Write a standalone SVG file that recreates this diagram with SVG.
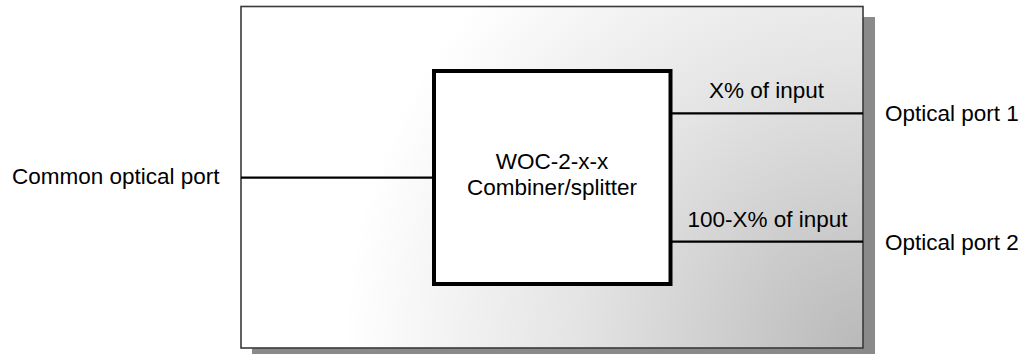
<svg xmlns="http://www.w3.org/2000/svg" width="1024" height="354" viewBox="0 0 1024 354">
<style>
  .lbl { font-family: "Liberation Sans", Arial, sans-serif; font-size: 22.5px; fill: #000; }
  .mid { text-anchor: middle; }
  .conn { stroke: #000; stroke-width: 2.2; fill: none; }
</style>
<defs>
  <radialGradient id="bg" gradientUnits="userSpaceOnUse" cx="863" cy="348" r="520">
    <stop offset="0" stop-color="#b9b9b9"/>
    <stop offset="0.55" stop-color="#e4e4e4"/>
    <stop offset="1" stop-color="#ffffff"/>
  </radialGradient>
</defs>
<rect width="1024" height="354" fill="#ffffff"/>
<g id="enclosure">
  <rect x="252" y="17" width="623" height="342" fill="#8a8a8a"/>
  <rect x="241" y="6.5" width="622" height="341.5" fill="url(#bg)" stroke="#3a3a3a" stroke-width="1.6"/>
</g>
<g id="connectors">
  <line class="conn" x1="241" y1="177.7" x2="433" y2="177.7"/>
  <line class="conn" x1="671" y1="113.3" x2="863" y2="113.3"/>
  <line class="conn" x1="671" y1="241.7" x2="863" y2="241.7"/>
</g>
<g id="splitter">
  <rect x="434" y="71" width="236.5" height="213" fill="#ffffff" stroke="#000" stroke-width="4"/>
  <text class="lbl mid" x="552" y="169.3">WOC-2-x-x</text>
  <text class="lbl mid" x="552" y="195">Combiner/splitter</text>
</g>
<g id="common-port">
  <text class="lbl" x="12" y="184.3">Common optical port</text>
</g>
<g id="port1">
  <text class="lbl" x="885" y="121">Optical port 1</text>
</g>
<g id="port2">
  <text class="lbl" x="885" y="249.5">Optical port 2</text>
</g>
<g id="label-x">
  <text class="lbl mid" x="766.5" y="98">X% of input</text>
</g>
<g id="label-100x">
  <text class="lbl mid" x="767.5" y="226.7">100-X% of input</text>
</g>
</svg>
